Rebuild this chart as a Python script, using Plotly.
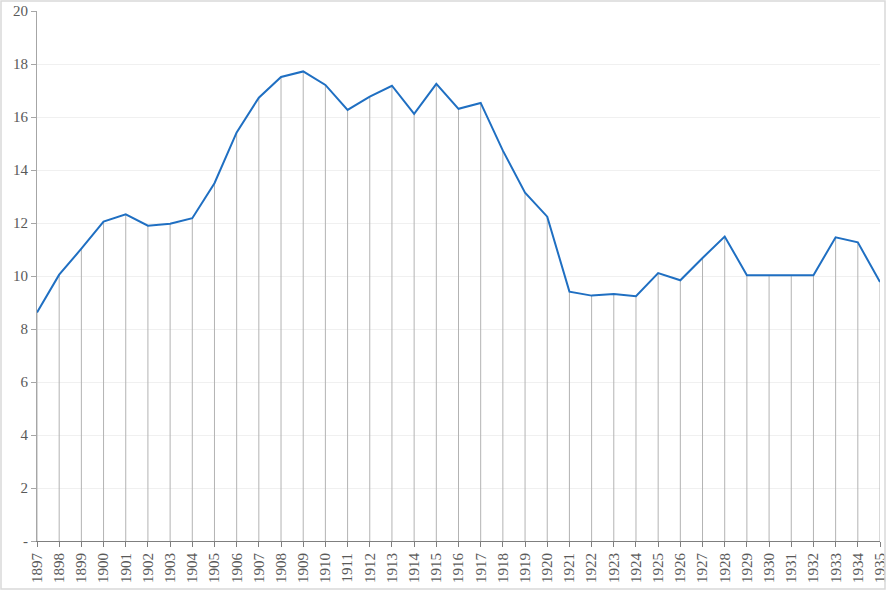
import plotly.graph_objects as go

years = list(range(1897, 1936))
values = [8.62, 10.05, 11.03, 12.05, 12.33, 11.9, 11.97, 12.18, 13.5, 15.42,
          16.73, 17.51, 17.72, 17.21, 16.27, 16.77, 17.18, 16.12, 17.25, 16.31,
          16.53, 14.73, 13.14, 12.24, 9.41, 9.26, 9.32, 9.24, 10.11, 9.84,
          10.68, 11.49, 10.03, 10.03, 10.03, 10.03, 11.46, 11.27, 9.77]
y_tickvals = [0, 2, 4, 6, 8, 10, 12, 14, 16, 18, 20]
y_ticktext = ["-", "2", "4", "6", "8", "10", "12", "14", "16", "18", "20"]

W, H = 886, 590
ml, mr, mt, mb = 37, 6, 11, 49
pw, ph = W - ml - mr, H - mt - mb

fig = go.Figure()
fig.add_trace(go.Scatter(
    x=years, y=values, mode="lines",
    line=dict(color="#1f6fc2", width=2),
    error_y=dict(type="data", symmetric=False, array=[0] * len(values),
                 arrayminus=values, width=0, color="#b3b3b3", thickness=1),
    hoverinfo="x+y", showlegend=False,
))

fig.add_shape(type="rect", xref="paper", yref="paper",
              x0=(-ml + 1) / pw, x1=(pw + mr - 1) / pw,
              y0=(-mb + 1) / ph, y1=(ph + mt - 1) / ph,
              line=dict(color="#d9d9d9", width=1.5), fillcolor="rgba(0,0,0,0)")

fig.update_layout(
    width=W, height=H,
    margin=dict(l=ml, r=mr, t=mt, b=mb, autoexpand=False),
    paper_bgcolor="white", plot_bgcolor="white",
    font=dict(family="Liberation Serif, Times New Roman, serif", size=15, color="#595959"),
    xaxis=dict(range=[1897, 1935], tickmode="array", tickvals=years,
               ticktext=[str(y) for y in years], tickangle=-90,
               ticklabeloverflow="allow", automargin=False,
               showgrid=False, showline=True, linecolor="#7f7f7f", linewidth=1,
               ticks="outside", ticklen=5, tickcolor="#7f7f7f", zeroline=False),
    yaxis=dict(range=[0, 20], tickmode="array", tickvals=y_tickvals, ticktext=y_ticktext,
               automargin=False,
               showgrid=True, gridcolor="#f0f0f0", gridwidth=1,
               showline=True, linecolor="#a6a6a6", linewidth=1,
               ticks="outside", ticklen=5, tickcolor="#a6a6a6", zeroline=False),
)

fig.write_html("out.html", config={"displayModeBar": False},
               post_script="document.body.style.margin='0';")
